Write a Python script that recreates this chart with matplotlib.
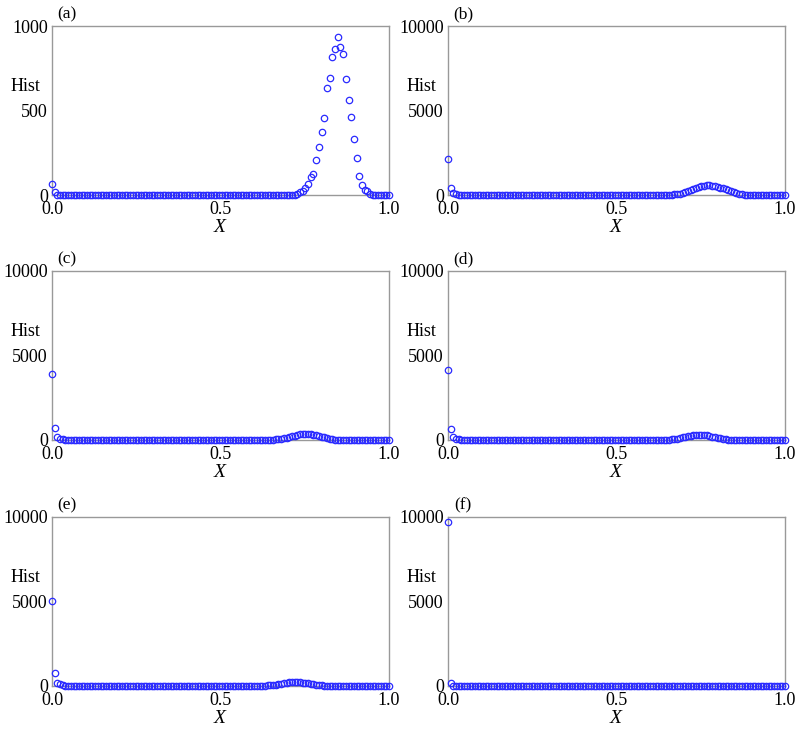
import numpy as np
import matplotlib.pyplot as plt

plt.rcParams['font.family'] = ['Liberation Serif', 'DejaVu Serif']
plt.rcParams['mathtext.fontset'] = 'custom'
plt.rcParams['mathtext.it'] = 'Liberation Serif:italic'

# 126 bins on [0, 1]
n_bins = 126
x_bins = np.linspace(0.0, 1.0, n_bins)

# histogram counts (index -> value), zeros elsewhere
hist_a = {0: 67, 1: 16, 2: 2,
          90: 2, 91: 6, 92: 16, 93: 25, 94: 43, 95: 63, 96: 108, 97: 126,
          98: 205, 99: 284, 100: 371, 101: 456, 102: 635, 103: 690, 104: 815,
          105: 864, 106: 933, 107: 877, 108: 833, 109: 686, 110: 560, 111: 460,
          112: 331, 113: 217, 114: 112, 115: 61, 116: 30, 117: 24, 118: 4}
hist_b = {0: 2130, 1: 396, 2: 136, 3: 60, 4: 30, 5: 15,
          81: 5, 82: 10, 83: 20, 84: 35, 85: 55, 86: 85, 87: 125, 88: 175,
          89: 235, 90: 300, 91: 370, 92: 430, 93: 480, 94: 520, 95: 550,
          96: 565, 97: 570, 98: 560, 99: 535, 100: 495, 101: 445, 102: 390,
          103: 330, 104: 270, 105: 210, 106: 160, 107: 115, 108: 80, 109: 50,
          110: 30, 111: 15, 112: 8}
hist_c = {0: 3920, 1: 700, 2: 180, 3: 80, 4: 40, 5: 20, 6: 10,
          81: 10, 82: 20, 83: 35, 84: 55, 85: 80, 86: 110, 87: 145, 88: 185,
          89: 225, 90: 265, 91: 300, 92: 330, 93: 350, 94: 360, 95: 355,
          96: 340, 97: 315, 98: 280, 99: 240, 100: 195, 101: 150, 102: 110,
          103: 75, 104: 45, 105: 25, 106: 12, 107: 5}
hist_d = {0: 4170, 1: 650, 2: 150, 3: 70, 4: 35, 5: 15, 6: 8,
          80: 8, 81: 15, 82: 25, 83: 40, 84: 60, 85: 85, 86: 115, 87: 150,
          88: 190, 89: 230, 90: 265, 91: 290, 92: 305, 93: 310, 94: 305,
          95: 290, 96: 270, 97: 240, 98: 205, 99: 165, 100: 125, 101: 90,
          102: 60, 103: 35, 104: 20, 105: 10, 106: 5}
hist_e = {0: 5030, 1: 750, 2: 200, 3: 90, 4: 45, 5: 20, 6: 10,
          77: 5, 78: 10, 79: 18, 80: 28, 81: 40, 82: 55, 83: 75, 84: 100,
          85: 125, 86: 155, 87: 185, 88: 210, 89: 228, 90: 235, 91: 230,
          92: 218, 93: 200, 94: 178, 95: 152, 96: 125, 97: 98, 98: 72,
          99: 50, 100: 32, 101: 20, 102: 12, 103: 6}
hist_f = {0: 9700, 1: 180, 2: 20, 3: 5}

panel_labels = ['(a)', '(b)', '(c)', '(d)', '(e)', '(f)']
panel_data = [hist_a, hist_b, hist_c, hist_d, hist_e, hist_f]
y_max = [1000, 10000, 10000, 10000, 10000, 10000]
y_ticks = [[0, 500, 1000], [0, 5000, 10000], [0, 5000, 10000],
           [0, 5000, 10000], [0, 5000, 10000], [0, 5000, 10000]]
x_ticks = [0.0, 0.5, 1.0]


def to_array(d):
    y = np.zeros(n_bins)
    for k, v in d.items():
        y[k] = v
    return y


fig = plt.figure(figsize=(8.05, 7.31), dpi=100)

lefts = [0.0646, 0.5565]
bottoms = [0.7332, 0.3981, 0.0616]
width = 0.4186
height = 0.2312

for i in range(6):
    r, c = divmod(i, 2)
    ax = fig.add_axes([lefts[c], bottoms[r], width, height])
    y = to_array(panel_data[i])
    ax.plot(x_bins, y, 'o', mfc='none', mec='#2a2aff', ms=4.6, mew=0.9,
            clip_on=False, zorder=3)
    ax.set_xlim(0, 1)
    ax.set_ylim(0, y_max[i])
    ax.set_xticks(x_ticks)
    ax.set_xticklabels(['0.0', '0.5', '1.0'])
    ax.set_yticks(y_ticks[i])
    ax.set_yticklabels([str(t) for t in y_ticks[i]])
    ax.tick_params(length=0, labelsize=13)
    ax.tick_params(axis='x', pad=4)
    ax.tick_params(axis='y', pad=3)
    for sp in ax.spines.values():
        sp.set_color('#999999')
        sp.set_linewidth(1.0)
    ax.text(-0.08, 0.64, 'Hist', transform=ax.transAxes, fontsize=13,
            ha='center', va='center')
    ax.text(0.045, 1.07, panel_labels[i], transform=ax.transAxes,
            fontsize=12.5, ha='center', va='center')
    ax.text(0.5, -0.19, '$X$', transform=ax.transAxes, fontsize=14,
            ha='center', va='center')

fig.savefig('out.png', dpi=100)
